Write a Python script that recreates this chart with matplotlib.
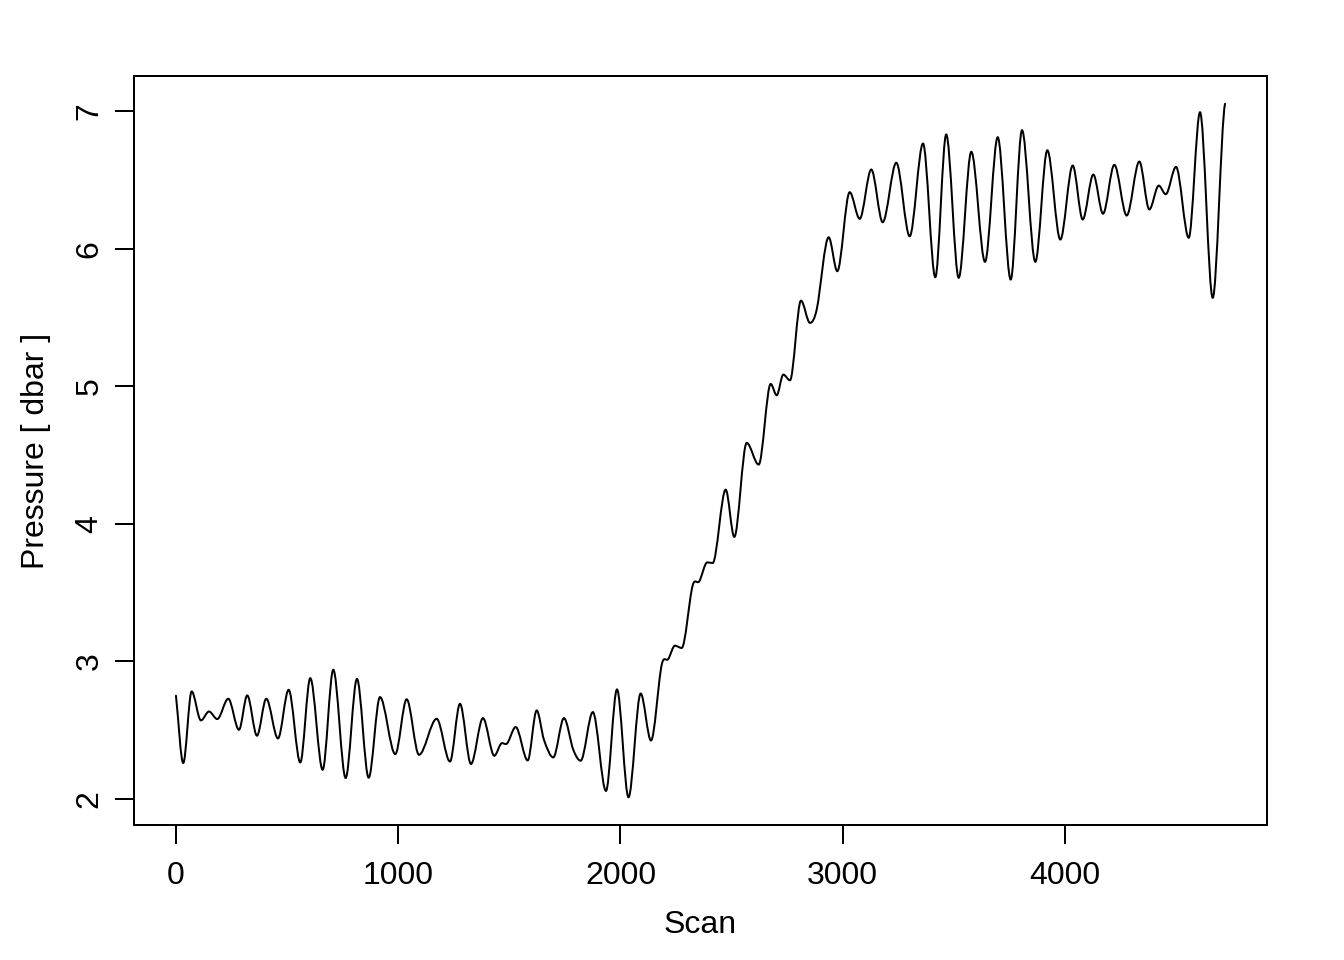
import numpy as np
import matplotlib
matplotlib.use('Agg')
import matplotlib.pyplot as plt
from matplotlib.path import Path
from matplotlib.patches import PathPatch

# Turning points of the pressure trace
scan = [0, 32.8, 70.6, 112.5, 148.5, 185.8, 235.3, 283.5, 320.8, 364.5,
        406.3, 459.0, 507.0, 559.3, 604.3, 660.0, 707.8, 763.5, 814.4, 867.0,
        917.9, 986.7, 1038.0, 1093.4, 1173.0, 1232.8, 1277.8, 1327.3, 1381.3, 1432.2,
        1466.8, 1484.8, 1528.5, 1582.5, 1622.9, 1655.8, 1697.6, 1745.7, 1787.6, 1820.9,
        1875.6, 1934.7, 1984.3, 2036.0, 2090.8, 2137.2, 2185.4, 2215.0, 2245.0, 2275.2,
        2324.7, 2354.4, 2390.4, 2414.8, 2473.3, 2512.0, 2567.8, 2621.8, 2675.8, 2702.8,
        2732.5, 2762.6, 2812.0, 2852.5, 2882.7, 2936.7, 2975.4, 3031.2, 3076.2, 3128.4,
        3179.7, 3240.9, 3301.2, 3361.1, 3416.4, 3465.5, 3521.7, 3578.4, 3640.1, 3697.2,
        3755.7, 3806.5, 3866.4, 3920.4, 3978.9, 4034.6, 4079.6, 4127.3, 4171.0, 4221.8,
        4277.6, 4334.3, 4379.3, 4421.6, 4453.1, 4499.4, 4556.6, 4607.4, 4664.5, 4719.9]

pressure = [2.750, 2.260, 2.781, 2.570, 2.635, 2.580, 2.728, 2.502, 2.752, 2.459,
            2.728, 2.439, 2.793, 2.264, 2.878, 2.211, 2.939, 2.151, 2.873, 2.153,
            2.740, 2.325, 2.724, 2.320, 2.582, 2.271, 2.691, 2.253, 2.587, 2.313,
            2.405, 2.398, 2.522, 2.279, 2.643, 2.429, 2.301, 2.587, 2.357, 2.277,
            2.631, 2.057, 2.796, 2.011, 2.766, 2.424, 2.975, 3.017, 3.114, 3.097,
            3.552, 3.582, 3.720, 3.715, 4.249, 3.905, 4.589, 4.431, 5.018, 4.935,
            5.086, 5.044, 5.624, 5.462, 5.559, 6.085, 5.838, 6.413, 6.219, 6.578,
            6.194, 6.627, 6.092, 6.767, 5.794, 6.833, 5.790, 6.707, 5.906, 6.813,
            5.777, 6.864, 5.906, 6.718, 6.068, 6.607, 6.214, 6.541, 6.256, 6.612,
            6.243, 6.636, 6.287, 6.461, 6.398, 6.597, 6.081, 6.995, 5.644, 7.056]

x_ticks = [0, 1000, 2000, 3000, 4000]
y_ticks = [2, 3, 4, 5, 6, 7]


def smooth_path(xs, ys):
  # cubic Bezier through the points, flat at turning points
  xs = np.asarray(xs, float)
  ys = np.asarray(ys, float)
  n = len(xs)
  m = np.zeros(n)
  for i in range(n):
    if i == 0:
      m[i] = (ys[1] - ys[0]) / (xs[1] - xs[0])
    elif i == n - 1:
      m[i] = 0.3 * (ys[-1] - ys[-2]) / (xs[-1] - xs[-2])
    elif (ys[i] - ys[i - 1]) * (ys[i + 1] - ys[i]) <= 0:
      m[i] = 0.0
    else:
      m[i] = (ys[i + 1] - ys[i - 1]) / (xs[i + 1] - xs[i - 1])
  verts = [(xs[0], ys[0])]
  codes = [Path.MOVETO]
  for i in range(n - 1):
    dx = xs[i + 1] - xs[i]
    verts += [(xs[i] + dx / 3, ys[i] + m[i] * dx / 3),
              (xs[i + 1] - dx / 3, ys[i + 1] - m[i + 1] * dx / 3),
              (xs[i + 1], ys[i + 1])]
    codes += [Path.CURVE4] * 3
  return Path(verts, codes)


plt.rcParams['font.family'] = ['Liberation Sans', 'DejaVu Sans']
plt.rcParams['font.size'] = 12

fig = plt.figure(figsize=(7, 5), dpi=192)
ax = fig.add_axes([0.0997, 0.1406, 0.8430, 0.7802])

ax.add_patch(PathPatch(smooth_path(scan, pressure), fill=False,
                       edgecolor='black', lw=0.75, capstyle='round',
                       joinstyle='round'))

# R style 4% padding
xr = max(scan) - min(scan)
yr = max(pressure) - min(pressure)
ax.set_xlim(min(scan) - 0.04 * xr, max(scan) + 0.04 * xr)
ax.set_ylim(min(pressure) - 0.04 * yr, max(pressure) + 0.04 * yr)

ax.set_xticks(x_ticks)
ax.set_yticks(y_ticks)
ax.set_yticklabels([str(v) for v in y_ticks], rotation=90, va='center')
ax.tick_params(direction='out', length=7, width=0.75, labelsize=12)
ax.tick_params(axis='x', pad=6.5)
ax.tick_params(axis='y', pad=4)
for s in ax.spines.values():
  s.set_linewidth(0.75)

ax.set_xlabel('Scan', fontsize=12, labelpad=7)
ax.set_ylabel('Pressure [ dbar ]', fontsize=12, labelpad=9)

fig.savefig('out.png', dpi=192)
